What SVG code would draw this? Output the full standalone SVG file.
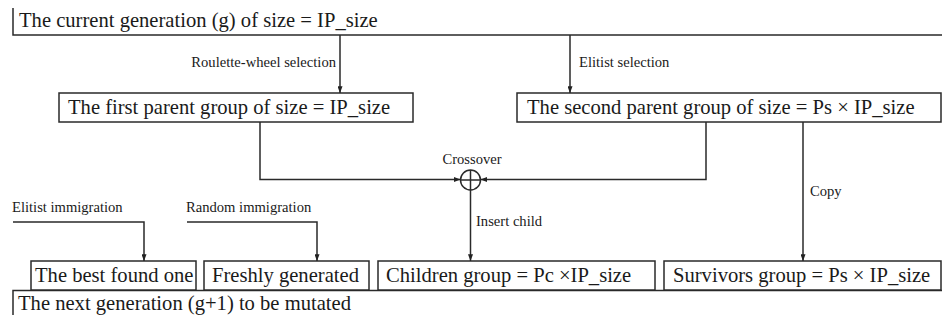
<svg xmlns="http://www.w3.org/2000/svg" width="942" height="322" viewBox="0 0 942 322">
<defs>
<marker id="arr" viewBox="0 0 8 6" refX="8" refY="3" markerWidth="7" markerHeight="5" markerUnits="userSpaceOnUse" orient="auto">
<path d="M0,0 L8,3 L0,6 Z" fill="#222"/>
</marker>
<style>
.ln{fill:none;stroke:#2a2a2a;stroke-width:1.5}
.bx{fill:#fff;stroke:#2a2a2a;stroke-width:1.5}
.t{font-family:"Liberation Serif","Times New Roman",serif;font-size:20.6px;fill:#1a1a1a}
.s{font-family:"Liberation Serif","Times New Roman",serif;font-size:14.6px;fill:#1a1a1a}
</style>
</defs>
<rect width="942" height="322" fill="#fff"/>
<g id="current">
<path class="ln" d="M13,8 V35 H942"/>
<text class="t" x="19" y="27">The current generation (g) of size = IP_size</text>
</g>
<g id="next">
<path class="ln" d="M13,315 V290.5 H942"/>
<text class="t" x="18" y="310">The next generation (g+1) to be mutated</text>
</g>
<g id="first">
<rect class="bx" x="59" y="93" width="354" height="29"/>
<text class="t" x="68" y="114">The first parent group of size = IP_size</text>
</g>
<g id="second">
<rect class="bx" x="517" y="93" width="424" height="29"/>
<text class="t" x="527" y="114">The second parent group of size = Ps × IP_size</text>
</g>
<g id="crossover">
<circle class="ln" cx="470.5" cy="180" r="10"/>
<path class="ln" d="M460.5,180 H480.5 M470.5,170 V190"/>
<text class="s" x="472" y="164" text-anchor="middle">Crossover</text>
</g>
<g id="best">
<rect class="bx" x="31" y="261" width="165" height="29"/>
<text class="t" x="35" y="282">The best found one</text>
</g>
<g id="fresh">
<rect class="bx" x="204" y="261" width="165" height="29"/>
<text class="t" x="212" y="282">Freshly generated</text>
</g>
<g id="children">
<rect class="bx" x="378" y="261" width="277" height="29"/>
<text class="t" x="386" y="282">Children group = Pc ×IP_size</text>
</g>
<g id="survivors">
<rect class="bx" x="664" y="261" width="277" height="29"/>
<text class="t" x="673" y="282">Survivors group = Ps × IP_size</text>
</g>
<g id="connectors">
<path class="ln" d="M340,35 V93" marker-end="url(#arr)"/>
<text class="s" x="336" y="67" text-anchor="end">Roulette-wheel selection</text>
<path class="ln" d="M570,35 V93" marker-end="url(#arr)"/>
<text class="s" x="579" y="67">Elitist selection</text>
<path class="ln" d="M260,122 V179.5 H460.5" marker-end="url(#arr)"/>
<path class="ln" d="M706,122 V179.5 H480.5" marker-end="url(#arr)"/>
<path class="ln" d="M470.5,190 V261" marker-end="url(#arr)"/>
<text class="s" x="476" y="226">Insert child</text>
<path class="ln" d="M803,122 V261" marker-end="url(#arr)"/>
<text class="s" x="810" y="196">Copy</text>
<path class="ln" d="M13,222 H144 V261" marker-end="url(#arr)"/>
<text class="s" x="12" y="212">Elitist immigration</text>
<path class="ln" d="M187,222 H317 V261" marker-end="url(#arr)"/>
<text class="s" x="186" y="212">Random immigration</text>
</g>
</svg>
